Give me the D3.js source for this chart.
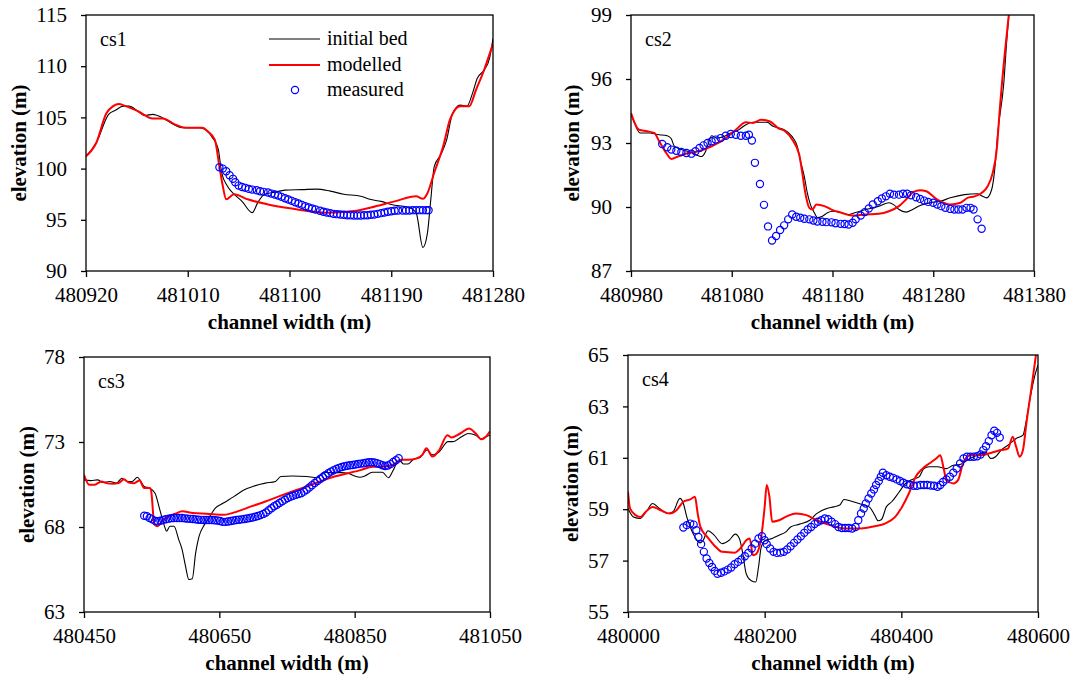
<!DOCTYPE html>
<html>
<head>
<meta charset="utf-8">
<script src="https://cdn.jsdelivr.net/npm/d3@7/dist/d3.min.js"></script>
<style>
  body { margin: 0; background: #fff; }
  svg text { font-family: "Liberation Serif", "Times New Roman", serif; fill: #000; }
</style>
</head>
<body>
<div id="chart"></div>
<script>
// ---- data: [channel width (m), elevation (m)] ----
const seriesNames = ['initial bed', 'modelled', 'measured'];

const cs1XTicks = [480920, 481010, 481100, 481190, 481280];
const cs1YTicks = [90, 95, 100, 105, 110, 115];
const cs1Bed = [[480920,101.2],[480929,102.5],[480940,105.3],[480946,105.7],[480953,106.1],[480958,106.1],[480966,105.6],[480972,105.2],[480979,105.3],[480987,105.0],[480996,104.4],[481005,104.0],[481020,104.0],[481026,103.8],[481032,103.0],[481037,101.9],[481040,99.6],[481045,98.3],[481051,97.5],[481058,96.8],[481067,95.7],[481072,96.7],[481078,97.5],[481087,97.7],[481096,97.9],[481111,97.95],[481124,98.0],[481136,97.8],[481148,97.5],[481163,97.3],[481171,97.0],[481181,96.8],[481190,96.5],[481206,96.2],[481212,95.7],[481218,92.3],[481222,93.7],[481225,97.0],[481228,100.2],[481234,101.4],[481239,102.8],[481244,105.3],[481251,106.2],[481257,106.1],[481262,107.4],[481266,108.8],[481272,109.6],[481277,110.8],[481280,112.7]];
const cs1Model = [[480920,101.2],[480929,102.5],[480938,105.4],[480944,106.1],[480949,106.3],[480955,106.1],[480966,105.6],[480979,104.9],[480988,104.9],[480999,104.3],[481008,104.0],[481023,104.0],[481028,103.6],[481034,102.8],[481038,100.2],[481041,98.3],[481044,97.0],[481051,97.5],[481063,97.0],[481081,96.5],[481102,96.1],[481133,95.7],[481157,95.85],[481172,96.2],[481193,96.8],[481212,97.3],[481218,97.05],[481222,97.6],[481228,99.6],[481236,102.2],[481242,104.8],[481251,106.1],[481259,106.1],[481265,107.7],[481272,109.6],[481280,112.2]];
const cs1Meas = [[481038,100.13],[481041,100.0],[481044,99.74],[481047,99.35],[481050,99.0],[481052,98.67],[481055,98.34],[481058,98.21],[481061,98.12],[481064,98.02],[481067,97.95],[481071,97.89],[481074,97.79],[481077,97.73],[481081,97.66],[481084,97.56],[481087,97.47],[481090,97.37],[481093,97.24],[481096,97.11],[481099,96.98],[481102,96.85],[481105,96.72],[481108,96.59],[481111,96.46],[481114,96.33],[481117,96.2],[481120,96.1],[481123,96.0],[481127,95.88],[481130,95.78],[481133,95.71],[481136,95.65],[481139,95.58],[481142,95.55],[481145,95.52],[481148,95.49],[481151,95.45],[481154,95.45],[481157,95.42],[481160,95.42],[481163,95.42],[481166,95.45],[481169,95.45],[481172,95.49],[481175,95.52],[481178,95.58],[481181,95.65],[481184,95.71],[481187,95.78],[481190,95.84],[481193,95.88],[481196,95.91],[481200,95.91],[481203,95.91],[481206,95.91],[481209,95.94],[481212,95.94],[481215,95.94],[481218,95.94],[481221,95.94],[481223,95.94]];

const cs2XTicks = [480980, 481080, 481180, 481280, 481380];
const cs2YTicks = [87, 90, 93, 96, 99];
const cs2Bed = [[480980,94.4],[480984,93.86],[480989,93.47],[480999,93.47],[481006,93.4],[481016,93.34],[481020,93.2],[481023,92.85],[481030,92.69],[481040,92.56],[481047,92.4],[481050,92.37],[481054,92.6],[481057,93.0],[481060,93.34],[481065,93.23],[481071,93.28],[481079,93.47],[481087,93.62],[481094,93.86],[481101,93.97],[481115,93.97],[481121,93.78],[481131,93.65],[481140,93.3],[481145,92.85],[481148,92.2],[481152,91.44],[481155,90.66],[481158,90.12],[481162,89.73],[481165,89.5],[481170,89.57],[481175,89.73],[481180,89.8],[481189,89.73],[481196,89.65],[481202,89.73],[481213,89.88],[481226,90.04],[481236,90.2],[481241,90.1],[481246,89.88],[481253,89.76],[481260,89.9],[481267,90.07],[481277,90.2],[481287,90.27],[481297,90.43],[481311,90.58],[481324,90.62],[481329,90.5],[481333,90.43],[481338,90.82],[481341,91.75],[481344,93.47],[481350,95.8],[481353,97.83],[481355,99.0]];
const cs2Model = [[480980,94.4],[480988,93.62],[480996,93.55],[481003,93.47],[481008,93.08],[481015,92.53],[481020,92.25],[481027,92.38],[481037,92.53],[481047,92.61],[481060,92.84],[481074,93.23],[481084,93.62],[481094,93.97],[481101,93.94],[481109,94.09],[481118,94.01],[481126,93.7],[481133,93.55],[481140,93.16],[481147,92.45],[481150,91.6],[481153,90.66],[481157,89.96],[481160,89.88],[481164,90.12],[481172,90.04],[481179,89.88],[481189,89.73],[481199,89.6],[481213,89.65],[481226,89.68],[481236,89.8],[481246,90.04],[481253,90.35],[481260,90.7],[481267,90.79],[481273,90.74],[481284,90.35],[481297,90.12],[481307,90.2],[481314,90.43],[481321,90.5],[481328,90.66],[481334,90.97],[481339,91.6],[481343,92.69],[481346,94.56],[481351,97.2],[481355,99.0]];
const cs2Meas = [[481011,92.95],[481016,92.8],[481020,92.69],[481025,92.64],[481030,92.58],[481035,92.53],[481040,92.5],[481044,92.61],[481048,92.77],[481052,92.89],[481056,93.0],[481060,93.08],[481064,93.16],[481069,93.23],[481074,93.34],[481079,93.42],[481084,93.39],[481089,93.34],[481094,93.34],[481097,93.39],[481100,93.12],[481103,92.07],[481108,91.08],[481112,90.1],[481116,89.09],[481120,88.43],[481124,88.64],[481128,88.92],[481132,89.14],[481136,89.42],[481140,89.65],[481144,89.54],[481148,89.5],[481152,89.45],[481157,89.42],[481161,89.37],[481165,89.32],[481170,89.31],[481174,89.29],[481179,89.28],[481183,89.24],[481188,89.21],[481192,89.2],[481196,89.18],[481200,89.26],[481203,89.42],[481208,89.6],[481212,89.76],[481216,89.93],[481220,90.12],[481225,90.27],[481229,90.4],[481233,90.5],[481237,90.62],[481241,90.58],[481246,90.58],[481250,90.62],[481254,90.62],[481258,90.55],[481263,90.46],[481267,90.38],[481271,90.3],[481275,90.24],[481280,90.2],[481284,90.12],[481288,90.04],[481292,89.96],[481297,89.91],[481301,89.88],[481305,89.88],[481309,89.88],[481313,89.96],[481317,89.96],[481320,89.88],[481324,89.42],[481328,88.98]];

const cs3XTicks = [480450, 480650, 480850, 481050];
const cs3YTicks = [63, 68, 73, 78];
const cs3Bed = [[480450,70.77],[480460,70.73],[480470,70.77],[480478,70.62],[480488,70.68],[480498,70.58],[480506,70.87],[480514,70.68],[480521,70.68],[480529,70.93],[480534,70.68],[480539,70.38],[480547,70.29],[480555,69.99],[480562,69.02],[480569,68.04],[480572,67.75],[480577,68.04],[480583,68.04],[480590,67.26],[480595,66.67],[480600,65.7],[480605,64.91],[480610,64.95],[480615,66.48],[480620,67.45],[480628,68.14],[480636,68.63],[480644,69.11],[480656,69.41],[480672,69.8],[480687,70.19],[480702,70.42],[480718,70.58],[480733,70.68],[480741,70.97],[480758,71.0],[480779,70.97],[480794,70.9],[480804,71.22],[480815,71.2],[480830,71.2],[480840,71.16],[480850,71.0],[480858,70.93],[480865,71.0],[480876,71.22],[480891,71.22],[480900,70.9],[480906,71.26],[480916,71.95],[480922,71.71],[480929,71.71],[480937,71.98],[480947,72.1],[480957,72.53],[480965,72.24],[480975,72.43],[480988,73.02],[480995,73.02],[481008,73.31],[481018,73.5],[481029,73.4],[481036,73.18],[481044,73.31],[481050,73.4]];
const cs3Model = [[480450,71.07],[480458,70.48],[480465,70.48],[480476,70.68],[480483,70.58],[480493,70.54],[480501,70.58],[480509,70.81],[480516,70.62],[480524,70.58],[480532,70.73],[480539,70.29],[480547,70.29],[480549,70.19],[480554,68.14],[480559,68.04],[480565,68.33],[480575,68.63],[480585,68.78],[480595,68.92],[480611,68.82],[480631,68.78],[480657,68.72],[480677,68.92],[480697,69.21],[480718,69.5],[480738,69.8],[480758,70.09],[480779,70.38],[480799,70.68],[480820,70.97],[480840,71.16],[480860,71.36],[480876,71.55],[480891,71.55],[480906,71.65],[480919,71.95],[480929,71.95],[480942,72.04],[480950,72.24],[480956,72.63],[480965,72.14],[480975,72.53],[480987,73.4],[480993,73.27],[481006,73.5],[481019,73.8],[481029,73.5],[481037,73.16],[481044,73.31],[481050,73.63]];
const cs3Meas = [[480539,68.66],[480543,68.63],[480547,68.53],[480551,68.45],[480555,68.36],[480559,68.34],[480563,68.37],[480567,68.42],[480571,68.46],[480575,68.49],[480579,68.52],[480583,68.53],[480587,68.53],[480591,68.53],[480595,68.53],[480599,68.51],[480603,68.49],[480607,68.48],[480611,68.47],[480615,68.45],[480619,68.43],[480623,68.42],[480627,68.41],[480631,68.41],[480635,68.41],[480639,68.41],[480643,68.4],[480647,68.38],[480651,68.35],[480655,68.3],[480659,68.3],[480663,68.32],[480667,68.35],[480671,68.38],[480675,68.41],[480679,68.43],[480683,68.45],[480687,68.47],[480691,68.5],[480695,68.53],[480699,68.56],[480703,68.6],[480707,68.65],[480711,68.7],[480715,68.77],[480719,68.85],[480723,68.99],[480727,69.1],[480731,69.22],[480735,69.31],[480739,69.41],[480743,69.51],[480747,69.61],[480751,69.7],[480755,69.78],[480759,69.84],[480763,69.89],[480767,69.94],[480771,69.99],[480775,70.08],[480779,70.19],[480783,70.32],[480787,70.46],[480791,70.59],[480795,70.71],[480799,70.82],[480803,70.93],[480807,71.04],[480811,71.16],[480815,71.26],[480819,71.34],[480823,71.42],[480827,71.48],[480831,71.53],[480835,71.57],[480839,71.6],[480843,71.63],[480847,71.65],[480851,71.68],[480855,71.71],[480859,71.73],[480863,71.75],[480867,71.78],[480871,71.81],[480875,71.81],[480879,71.8],[480883,71.75],[480887,71.7],[480891,71.63],[480895,71.59],[480899,71.62],[480903,71.7],[480907,71.82],[480911,71.93],[480915,72.04]];

const cs4XTicks = [480000, 480200, 480400, 480600];
const cs4YTicks = [55, 57, 59, 61, 63, 65];
const cs4Bed = [[480000,59.03],[480008,58.7],[480018,58.64],[480028,58.96],[480036,59.22],[480046,59.03],[480058,58.83],[480066,58.9],[480076,59.42],[480081,59.22],[480086,58.7],[480091,58.31],[480098,57.92],[480105,57.69],[480110,57.79],[480117,58.16],[480126,57.99],[480138,57.66],[480148,57.79],[480157,58.03],[480163,57.86],[480168,57.27],[480173,56.49],[480181,56.21],[480187,56.17],[480191,56.75],[480195,57.53],[480201,57.79],[480211,57.86],[480221,57.99],[480231,58.12],[480238,58.31],[480251,58.42],[480266,58.57],[480276,58.83],[480291,59.03],[480301,59.09],[480310,59.16],[480316,59.38],[480326,59.32],[480338,59.22],[480353,59.09],[480361,58.77],[480366,58.55],[480371,58.6],[480378,59.09],[480386,59.29],[480396,59.64],[480406,60.0],[480416,60.16],[480426,60.26],[480433,60.58],[480441,60.65],[480453,60.65],[480466,60.58],[480476,60.71],[480486,60.74],[480496,60.91],[480511,61.1],[480523,61.23],[480531,60.97],[480538,61.04],[480546,61.3],[480556,61.49],[480568,61.75],[480578,61.88],[480583,62.47],[480588,63.25],[480595,64.16],[480600,64.61]];
const cs4Model = [[480000,59.68],[480003,59.03],[480011,58.77],[480018,58.7],[480026,58.9],[480036,59.09],[480048,58.96],[480061,58.83],[480071,58.96],[480081,59.29],[480091,59.38],[480098,59.48],[480102,58.83],[480106,58.31],[480116,57.92],[480126,57.6],[480138,57.34],[480156,57.31],[480166,57.53],[480173,57.79],[480178,57.86],[480183,57.21],[480188,57.27],[480195,57.92],[480200,59.09],[480203,59.94],[480207,59.48],[480211,58.51],[480221,58.57],[480233,58.73],[480246,58.83],[480261,58.77],[480276,58.57],[480296,58.38],[480316,58.25],[480341,58.25],[480361,58.34],[480376,58.44],[480391,58.7],[480401,59.09],[480411,59.61],[480421,60.26],[480431,60.58],[480441,60.78],[480451,60.97],[480457,61.1],[480462,60.58],[480466,60.13],[480476,60.0],[480483,60.13],[480491,60.84],[480501,61.1],[480516,61.1],[480531,61.19],[480546,61.3],[480556,61.36],[480563,61.82],[480568,61.43],[480573,61.04],[480578,61.3],[480583,62.34],[480590,63.64],[480597,65.0]];
const cs4Meas = [[480081,58.29],[480086,58.38],[480091,58.44],[480096,58.4],[480100,58.18],[480103,57.92],[480107,57.64],[480111,57.34],[480115,57.08],[480119,56.91],[480123,56.75],[480127,56.6],[480131,56.49],[480136,56.53],[480141,56.58],[480146,56.65],[480151,56.73],[480156,56.86],[480161,56.95],[480166,57.04],[480171,57.17],[480176,57.3],[480181,57.47],[480186,57.66],[480191,57.86],[480196,57.95],[480200,57.79],[480203,57.64],[480208,57.47],[480213,57.34],[480218,57.3],[480223,57.31],[480228,57.34],[480233,57.43],[480238,57.56],[480243,57.69],[480248,57.82],[480253,57.95],[480258,58.08],[480263,58.21],[480268,58.31],[480273,58.42],[480278,58.51],[480283,58.57],[480288,58.64],[480293,58.61],[480298,58.51],[480303,58.42],[480308,58.31],[480313,58.27],[480318,58.27],[480323,58.27],[480328,58.25],[480333,58.31],[480337,58.57],[480341,58.83],[480345,59.03],[480348,59.22],[480352,59.42],[480356,59.61],[480360,59.77],[480363,59.94],[480367,60.1],[480370,60.26],[480373,60.42],[480378,60.32],[480383,60.26],[480388,60.22],[480393,60.16],[480398,60.1],[480403,60.03],[480408,59.97],[480413,59.94],[480418,59.91],[480423,59.91],[480428,59.94],[480433,59.94],[480438,59.94],[480443,59.92],[480448,59.91],[480453,59.87],[480457,59.94],[480461,60.06],[480466,60.16],[480471,60.26],[480476,60.42],[480481,60.58],[480486,60.78],[480491,60.97],[480496,61.04],[480501,61.04],[480506,61.04],[480511,61.06],[480516,61.13],[480520,61.3],[480524,61.45],[480528,61.65],[480532,61.88],[480536,62.05],[480540,61.97],[480544,61.79]];

// ---- layout ----
let config = {
  svg: { width: 1076, height: 682 },
  font: { family: '"Liberation Serif", "Times New Roman", serif', tick: 21, title: 21, legend: 20 },
  colors: { bed: '#000000', model: '#ff0000', meas: '#0000ff' }
};

const panels = [
  { name: 'cs1', left: 86, top: 15, right: 493, bottom: 271, xDomain: [480920, 481280], yDomain: [90, 115],
    xTicks: cs1XTicks, yTicks: cs1YTicks, bed: cs1Bed, model: cs1Model, meas: cs1Meas, yTitleX: 26, legend: true },
  { name: 'cs2', left: 631, top: 15, right: 1034, bottom: 271, xDomain: [480980, 481380], yDomain: [87, 99],
    xTicks: cs2XTicks, yTicks: cs2YTicks, bed: cs2Bed, model: cs2Model, meas: cs2Meas, yTitleX: 579 },
  { name: 'cs3', left: 84, top: 357, right: 490, bottom: 612, xDomain: [480450, 481050], yDomain: [63, 78],
    xTicks: cs3XTicks, yTicks: cs3YTicks, bed: cs3Bed, model: cs3Model, meas: cs3Meas, yTitleX: 34 },
  { name: 'cs4', left: 628, top: 355, right: 1038, bottom: 612, xDomain: [480000, 480600], yDomain: [55, 65],
    xTicks: cs4XTicks, yTicks: cs4YTicks, bed: cs4Bed, model: cs4Model, meas: cs4Meas, yTitleX: 578 }
];

const svg = d3.select('#chart').append('svg')
  .attr('width', config.svg.width)
  .attr('height', config.svg.height)
  .style('background', '#fff')
  .style('font-family', config.font.family);

const defs = svg.append('defs');

panels.forEach(function(p, i) {
  const x = d3.scaleLinear().domain(p.xDomain).range([p.left, p.right]);
  const y = d3.scaleLinear().domain(p.yDomain).range([p.bottom, p.top]);

  defs.append('clipPath').attr('id', 'clip' + i)
    .append('rect')
    .attr('x', p.left).attr('y', p.top)
    .attr('width', p.right - p.left).attr('height', p.bottom - p.top);

  const g = svg.append('g').attr('class', 'panel');

  // axes
  const xAxis = d3.axisBottom(x).tickValues(p.xTicks).tickFormat(d3.format('d'))
    .tickSizeInner(6).tickSizeOuter(0).tickPadding(10);
  const yAxis = d3.axisLeft(y).tickValues(p.yTicks).tickFormat(d3.format('d'))
    .tickSizeInner(5).tickSizeOuter(0).tickPadding(14);

  const gx = g.append('g').attr('transform', 'translate(0,' + p.bottom + ')').call(xAxis);
  const gy = g.append('g').attr('transform', 'translate(' + p.left + ',0)').call(yAxis);
  [gx, gy].forEach(function(a) {
    a.attr('font-family', null).attr('font-size', null);
    a.select('.domain').remove();
    a.selectAll('.tick line').attr('stroke', '#000').attr('stroke-width', 1.3);
    a.selectAll('.tick text').attr('fill', '#000')
      .style('font-family', config.font.family).style('font-size', config.font.tick + 'px');
  });

  // series
  const line = d3.line().curve(d3.curveMonotoneX).x(d => x(d[0])).y(d => y(d[1]));
  const plot = g.append('g').attr('clip-path', 'url(#clip' + i + ')');
  plot.append('path').datum(p.bed).attr('d', line)
    .attr('fill', 'none').attr('stroke', config.colors.bed).attr('stroke-width', 1.1);
  plot.append('path').datum(p.model).attr('d', line)
    .attr('fill', 'none').attr('stroke', config.colors.model).attr('stroke-width', 2);
  plot.selectAll('circle').data(p.meas).enter().append('circle')
    .attr('cx', d => x(d[0])).attr('cy', d => y(d[1])).attr('r', 3.6)
    .attr('fill', 'none').attr('stroke', config.colors.meas).attr('stroke-width', 1.2);

  // frame
  g.append('rect')
    .attr('x', p.left).attr('y', p.top)
    .attr('width', p.right - p.left).attr('height', p.bottom - p.top)
    .attr('fill', 'none').attr('stroke', '#000').attr('stroke-width', 1.3);

  // labels
  g.append('text').attr('x', p.left + 14).attr('y', p.top + 31)
    .style('font-size', '20px').text(p.name);
  g.append('text')
    .attr('x', (p.left + p.right) / 2).attr('y', p.bottom + 58)
    .attr('text-anchor', 'middle')
    .style('font-size', config.font.title + 'px').style('font-weight', 'bold')
    .text('channel width (m)');
  g.append('text')
    .attr('transform', 'translate(' + p.yTitleX + ',' + ((p.top + p.bottom) / 2) + ') rotate(-90)')
    .attr('text-anchor', 'middle')
    .style('font-size', config.font.title + 'px').style('font-weight', 'bold')
    .text('elevation (m)');

  if (p.legend) {
    const lg = g.append('g');
    const rows = [45, 71, 96];
    lg.append('line').attr('x1', 269).attr('x2', 320).attr('y1', rows[0] - 6).attr('y2', rows[0] - 6)
      .attr('stroke', config.colors.bed).attr('stroke-width', 1.1);
    lg.append('line').attr('x1', 269).attr('x2', 320).attr('y1', rows[1] - 6).attr('y2', rows[1] - 6)
      .attr('stroke', config.colors.model).attr('stroke-width', 2);
    lg.append('circle').attr('cx', 295).attr('cy', rows[2] - 6).attr('r', 3.6)
      .attr('fill', 'none').attr('stroke', config.colors.meas).attr('stroke-width', 1.2);
    seriesNames.forEach(function(n, k) {
      lg.append('text').attr('x', 327).attr('y', rows[k])
        .style('font-size', config.font.legend + 'px').text(n);
    });
  }
});
</script>
</body>
</html>
